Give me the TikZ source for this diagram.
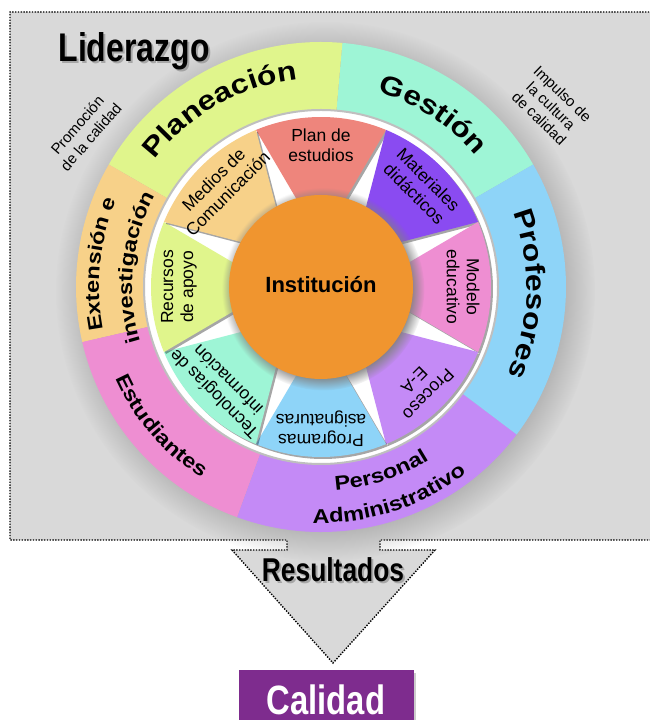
\documentclass[tikz,border=0pt]{standalone}
\usepackage{fontspec}
\setmainfont{Liberation Sans}
\newfontfamily\ringfont{Liberation Sans Bold}[FakeStretch=1.18]
\newfontfamily\condfont{Liberation Sans Bold}[FakeStretch=0.8]
\usepackage{tikz}
\usetikzlibrary{positioning,calc,shadows,decorations.text}

\definecolor{planea}{HTML}{E0F58C}
\definecolor{gestion}{HTML}{9EF5D6}
\definecolor{profes}{HTML}{8ED4F8}
\definecolor{person}{HTML}{C48AF6}
\definecolor{estud}{HTML}{EE8ED2}
\definecolor{extens}{HTML}{F7D189}
\definecolor{planest}{HTML}{EE857C}
\definecolor{mater}{HTML}{8A4BF1}
\definecolor{inst}{HTML}{F0952F}
\definecolor{fondo}{HTML}{D9D9D9}
\definecolor{calid}{HTML}{7E2C8E}

\newcommand{\ringbig}{\ringfont\fontsize{27}{30}\selectfont}
\newcommand{\ringmid}{\ringfont\fontsize{20}{24}\selectfont}
% text on an arc: font, radius, start angle, end angle, text
\newcommand{\arclabel}[5]{%
  \path[decorate,decoration={text along path,text align=center,text={|#1|#5}}]
    ($(centro)+(#3:#2)$) arc[start angle=#3,end angle=#4,radius=#2];
}

\begin{document}
\begin{tikzpicture}[x=1pt,y=1pt,
    border/.style={draw=black,line width=1.4pt,dash pattern=on 1.4pt off 1.4pt},
    petal/.style={align=center,font=\fontsize{17.5}{20}\selectfont},
    petalshadow/.style={drop shadow={shadow xshift=2pt,shadow yshift=-2pt,opacity=0.35,fill=black}},
    note/.style={align=center,font=\fontsize{15}{18}\selectfont},
    calbox/.style={fill=calid,text=white,minimum width=175,minimum height=60,inner sep=0pt,
      font=\condfont\fontsize{41}{44}\selectfont,drop shadow={opacity=0.4}}]
    \useasboundingbox (0,0) rectangle (649,720);
    \coordinate (centro) at (321,433);

    % Background with arrow
    \filldraw[fill=fondo,border] (652,708) -- (10,708) -- (10,180) -- (287,180) -- (287,170) -- (232,170)
      -- (333,57) -- (435,170) -- (380,170) -- (380,180) -- (652,180) -- cycle;

    % Titles and notes
    \node[anchor=base west,text=black!35] (liderS) at (57,656) {\condfont\fontsize{40}{44}\selectfont Liderazgo};
    \node[anchor=base west] (lider) at (55,658) {\condfont\fontsize{40}{44}\selectfont Liderazgo};
    \node[note,rotate=49] (promo) at (84,589) {Promoción\\de la calidad};
    \node[note,rotate=-44,font=\fontsize{15}{17}\selectfont] (impulso) at (551,614) {Impulso de\\la cultura\\de calidad};

    % Outer ring
    \path[circular drop shadow={shadow xshift=4pt,shadow yshift=-4pt,opacity=0.5}] (centro) circle (245);
    \foreach \a/\b/\col in {30/85/gestion, 85/150/planea, 150/193/extens, 193/250/estud, 250/323/person, 323/390/profes}
      \fill[\col] (centro) -- ($(centro)+(\a:245)$) arc[start angle=\a,end angle=\b,radius=245] -- cycle;

    % Inner disk
    \filldraw[fill=white,draw=black!25,line width=2pt] (centro) circle (177);

    % Petals
    \foreach \ang/\col/\txt [count=\i] in {90/planest/{Plan de\\estudios}, 45/mater/{Materiales\\didácticos},
        0/estud/{Modelo\\educativo}, -45/person/{Proceso\\E-A}, -90/profes/{Programas\\asignaturas},
        -135/gestion/{Tecnologías de\\información}, 180/planea/{Recursos\\de apoyo}, 135/extens/{Medios de\\Comunicación}} {
      \fill[\col,petalshadow] ($(centro)+(\ang+22.5:170)$) arc[start angle=\ang+22.5,end angle=\ang-22.5,radius=170]
        -- ($(centro)+(\ang-15:88)$) -- ($(centro)+(\ang+15:88)$) -- cycle;
      \node[petal,rotate=\ang-90] (petal\i) at ($(centro)+(\ang:142)$) {\txt};
    }

    % Center
    \fill[inst,circular drop shadow={shadow xshift=2pt,shadow yshift=-2pt}] (centro) circle (92);
    \node[anchor=base] (inst) at (321,427) {\bfseries\fontsize{22}{26}\selectfont Institución};

    % Ring labels
    \arclabel{\ringbig}{209}{160}{79}{Planeación}
    \arclabel{\ringbig}{203}{95}{19}{Gestión}
    \arclabel{\ringbig}{206}{38}{-42}{Profesores}
    \arclabel{\ringmid}{222}{214}{134}{Extensión e}
    \arclabel{\ringmid}{189}{214}{134}{investigación}
    \arclabel{\ringmid}{225}{181}{261}{Estudiantes}
    \arclabel{\ringmid}{204}{-112}{-32}{Personal}
    \arclabel{\ringmid}{236}{-117}{-27}{Administrativo}

    % Results
    \node[anchor=base,text=black!35] (resultS) at (335,136) {\condfont\fontsize{33}{36}\selectfont Resultados};
    \node[anchor=base] (result) at (333,138) {\condfont\fontsize{33}{36}\selectfont Resultados};
    \node[calbox] (calidad) at (326,20) {Calidad};
\end{tikzpicture}
\end{document}
